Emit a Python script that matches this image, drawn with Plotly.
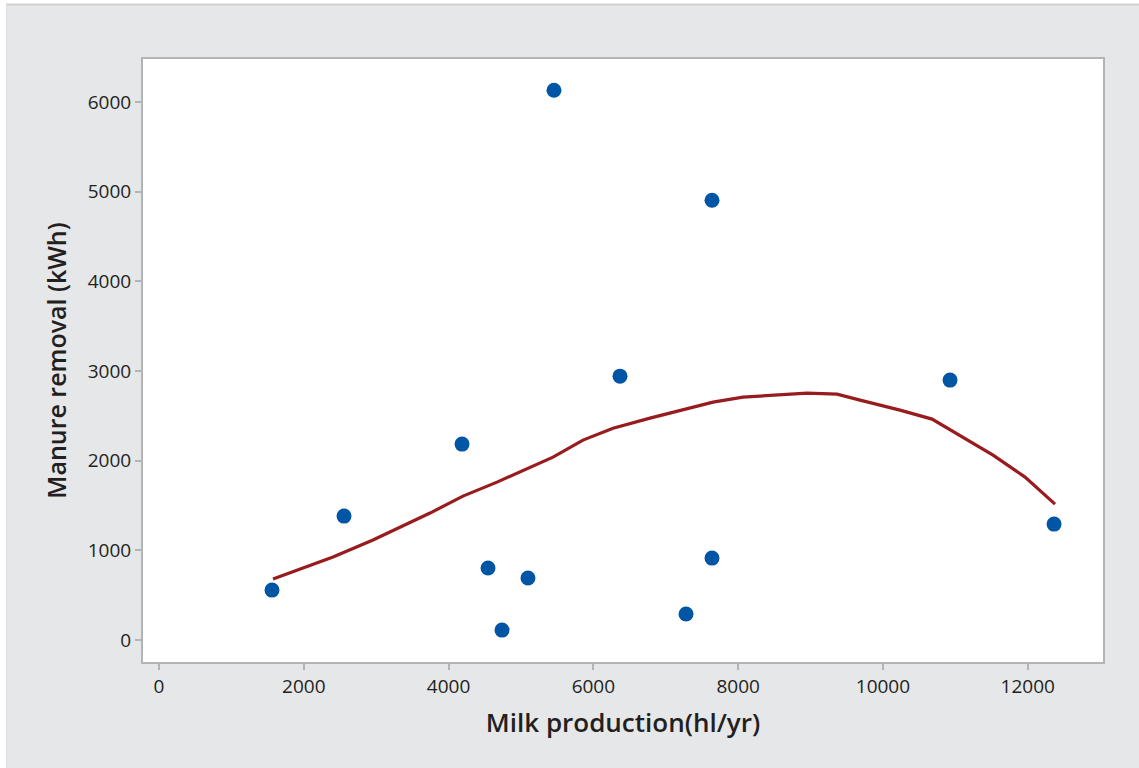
import plotly.graph_objects as go

# Observed farms: milk production vs. manure removal energy
milk_production = [1561, 2556, 4186, 4545, 4738, 5097, 5456, 6368, 7280, 7639, 7639, 10927, 12364]
manure_removal = [557, 1382, 2185, 803, 111, 691, 6131, 2943, 290, 4905, 914, 2899, 1293]

# Smoothed trend through the scatter
trend_x = [1575, 2404, 2956, 3744, 4199, 4669, 5443, 5857, 6272, 6783, 7653, 8067,
           8952, 9366, 9684, 10236, 10678, 11106, 11521, 11963, 12377]
trend_y = [680, 925, 1115, 1416, 1605, 1761, 2040, 2230, 2363, 2475, 2653, 2709,
           2754, 2742, 2676, 2564, 2464, 2263, 2062, 1817, 1516]

x_ticks = [0, 2000, 4000, 6000, 8000, 10000, 12000]
y_ticks = [0, 1000, 2000, 3000, 4000, 5000, 6000]

W, H = 1139, 768
L, R, T, B = 143, 36, 59, 106
pw, ph = W - L - R, H - T - B


def px_x(p):
    return (p - L) / pw


def px_y(p):
    return (H - B - p) / ph


fig = go.Figure()
fig.add_trace(go.Scatter(
    x=trend_x, y=trend_y, mode="lines",
    line=dict(color="#981b1e", width=3.2),
    hoverinfo="skip", showlegend=False,
))
fig.add_trace(go.Scatter(
    x=milk_production, y=manure_removal, mode="markers",
    marker=dict(color="#0055a5", size=15),
    showlegend=False,
))

axis_common = dict(
    showgrid=False, zeroline=False, showline=True, mirror=True,
    linecolor="#b3b4b6", linewidth=2,
    ticks="outside", ticklen=6, tickwidth=1.5, tickcolor="#b3b4b6",
    tickfont=dict(family="Open Sans", size=19, color="#231f20"),
)

fig.update_xaxes(
    range=[-221, 13040], tickvals=x_ticks, tickformat="d",
    title=dict(text="Milk production(hl/yr)", standoff=16,
               font=dict(family="Open Sans", size=26, color="#231f20", weight=600)),
    **axis_common,
)
fig.update_yaxes(
    range=[-245, 6480], tickvals=y_ticks, tickformat="d",
    title=dict(text="Manure removal (kWh)", standoff=14,
               font=dict(family="Open Sans", size=25, color="#231f20", weight=600)),
    **axis_common,
)

fig.update_layout(
    width=W, height=H,
    margin=dict(l=L, r=R, t=T, b=B),
    paper_bgcolor="#e6e7e9",
    plot_bgcolor="#ffffff",
    shapes=[
        # white page edge at the top and left
        dict(type="rect", xref="paper", yref="paper",
             x0=px_x(-5), x1=px_x(W + 5), y0=px_y(4), y1=px_y(-5),
             fillcolor="#ffffff", line=dict(width=0), layer="above"),
        dict(type="rect", xref="paper", yref="paper",
             x0=px_x(-5), x1=px_x(6), y0=px_y(H + 5), y1=px_y(-5),
             fillcolor="#ffffff", line=dict(width=0), layer="above"),
        # frame edge lines
        dict(type="line", xref="paper", yref="paper",
             x0=px_x(6), x1=px_x(W + 5), y0=px_y(4.5), y1=px_y(4.5),
             line=dict(color="#cfd0d2", width=2), layer="above"),
        dict(type="line", xref="paper", yref="paper",
             x0=px_x(6.5), x1=px_x(6.5), y0=px_y(4), y1=px_y(H + 5),
             line=dict(color="#dcdde0", width=1), layer="above"),
    ],
)

fig.write_html("out.html")
